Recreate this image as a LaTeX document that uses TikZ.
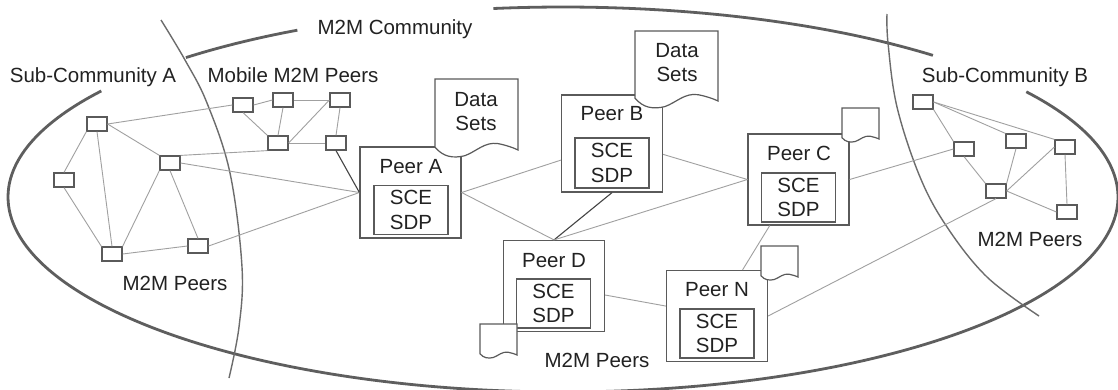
\documentclass[tikz,border=0pt]{standalone}
\usepackage{fontspec}
\setmainfont{Liberation Sans}
\definecolor{inkc}{HTML}{222222}
\definecolor{ringc}{HTML}{5E5E5E}
\definecolor{dividerc}{HTML}{6C6C6C}
\definecolor{boxc}{HTML}{5A5A5A}
\definecolor{linkc}{HTML}{A0A0A0}
\definecolor{strongc}{HTML}{444444}
\tikzset{
  lbl/.style={inner sep=0pt,text=inkc,font=\fontsize{20.5}{24.5}\selectfont,text height=14.5pt,text depth=0pt},
  peerbox/.style={draw=boxc,line width=1.2pt,fill=white,inner sep=0pt,minimum width=101pt,minimum height=91pt},
  engine/.style={draw=boxc,line width=1.2pt,fill=white,inner sep=0pt,minimum width=74pt,minimum height=49pt,
    align=center,text=inkc,font=\fontsize{20.5}{24.5}\selectfont},
  small/.style={draw=boxc,line width=1.2pt,fill=white,inner sep=0pt,minimum width=20pt,minimum height=14pt},
  ring/.style={draw=ringc,line width=2.8pt},
  divider/.style={draw=dividerc,line width=1.4pt},
  link/.style={draw=linkc,line width=0.9pt},
  stronglink/.style={draw=strongc,line width=1.1pt},
  docline/.style={draw=boxc,line width=1.2pt,fill=white}
}
\newcommand{\wavedoc}[4]{%
  \begin{scope}[shift={(#1,#2)},x=#3pt,y=-#4pt]
    \path[docline] (0,0) -- (1,0) -- (1,1)
      .. controls (.95,.97) and (.85,.93) .. (.76,.91)
      .. controls (.6,.88) and (.5,1.02) .. (.36,1.08)
      .. controls (.22,1.12) and (.1,1.1) .. (0,.96) -- cycle;
  \end{scope}}
\begin{document}
\begin{tikzpicture}[x=1pt,y=-1pt]
\clip (0,0) rectangle (1118,389);
\fill[white] (0,0) rectangle (1118,389);
% community ring
\draw[ring] plot[domain=213.7:-33.4,samples=240,variable=\t]
  ({563+555*cos(\t)},{197+(192.5+2.5*sin(\t))*sin(\t)});
\draw[ring] plot[domain=227.2:241.4,samples=20,variable=\t]
  ({563+555*cos(\t)},{197+190*sin(\t)});
\draw[ring] plot[domain=262.8:311.8,samples=60,variable=\t]
  ({563+555*cos(\t)},{197+190*sin(\t)});
% sub-community borders
\draw[divider] plot[smooth,tension=.6] coordinates {(161,20) (185,60) (207,103) (230,173) (242,267) (239,327) (229,378)};
\draw[divider] plot[smooth,tension=.6] coordinates {(887,14) (888,43) (897,107) (920,177) (947,227) (987,277) (1039,316)};
% small peers
\node[small] (a1) at (97,124) {};
\node[small] (a2) at (64,180) {};
\node[small] (a3) at (170,163) {};
\node[small] (a4) at (112,254) {};
\node[small] (a5) at (198,246) {};
\node[small] (m1) at (243,105) {};
\node[small] (m2) at (283,100) {};
\node[small] (m3) at (340,100) {};
\node[small] (m4) at (278,143) {};
\node[small] (m5) at (336,143) {};
\node[small] (b1) at (923,102) {};
\node[small] (b2) at (964,149) {};
\node[small] (b3) at (1016,141) {};
\node[small] (b4) at (1065,147) {};
\node[small] (b5) at (996,191) {};
\node[small] (b6) at (1067,212) {};
% large peers
\node[peerbox] (pa) at (410.5,192.5) {};
\node[peerbox,minimum height=97pt] (pb) at (612,143.5) {};
\node[peerbox] (pc) at (798.5,179.5) {};
\node[peerbox] (pd) at (554,286) {};
\node[peerbox] (pn) at (717,316) {};
% links
\draw[link] (a1.east) -- (m1.west);
\draw[link] (a1.east) -- (a3.north west);
\draw[link] (a3.north east) -- (m4.south west);
\draw[link] (a3.east) -- (pa.west);
\draw[link] (a5.east) -- (pa.west);
\draw[link] (a3.south west) -- (a4.north east);
\draw[link] (a3.south) -- (a5.north);
\draw[link] (a1.south) -- (a4.north);
\draw[link] (a1.south west) -- (a2.north);
\draw[link] (a2.south) -- (a4.north west);
\draw[link] (a4.east) -- (a5.west);
\draw[link] (m1.east) -- (m2.west);
\draw[link] (m2.east) -- (m3.west);
\draw[link] (m3.south) -- (m5.north);
\draw[link] (m2.south) -- (m4.north);
\draw[link] (m1.south) -- (m4.north west);
\draw[link] (m3.west) -- (m4.east);
\draw[link] (m4.east) -- (m5.west);
\draw[stronglink] (m5.south) -- (pa.west);
\draw[link] (pa.east) -- (pb.198);
\draw[link] (pa.east) -- (pd.north);
\draw[stronglink] (pb.south) -- (pd.north);
\draw[link] (pc.west) -- (pd.north);
\draw[link] (pb.-12) -- (pc.west);
\draw[link] (pd.-10) -- (pn.169);
\draw[link] (pc.east) -- (b2.west);
\draw[link] (pc.238) -- (pn.61);
\draw[link] (pn.east) -- (b5.south);
\draw[link] (b1.east) -- (b4.north west);
\draw[link] (b1.east) -- (b3.north west);
\draw[link] (b1.south east) -- (b2.north west);
\draw[link] (b2.south) -- (b5.north west);
\draw[link] (b3.south) -- (b5.north east);
\draw[link] (b4.west) -- (b5.east);
\draw[link] (b4.south) -- (b6.north);
\draw[link] (b5.east) -- (b6.west);
% engines and titles
\node[engine] (ea) at (411,210) {SCE\\SDP};
\node[engine,minimum height=50pt] (eb) at (612,163) {SCE\\SDP};
\node[engine] (ec) at (798.5,197.5) {SCE\\SDP};
\node[engine] (ed) at (553.5,303.5) {SCE\\SDP};
\node[engine] (en) at (717,333.5) {SCE\\SDP};
\node[lbl] (ta) at (411,166) {Peer A};
\node[lbl] (tb) at (612,113) {Peer B};
\node[lbl] (tc) at (799,153) {Peer C};
\node[lbl] (td) at (554,260) {Peer D};
\node[lbl] (tn) at (717,289) {Peer N};
% documents
\wavedoc{435}{79}{83}{71}
\wavedoc{635}{31}{83}{70}
\wavedoc{480}{324}{37}{31}
\wavedoc{761}{246}{37}{31}
\wavedoc{842}{108}{37}{31}
\node[lbl,align=center] (da) at (476,99) {Data};
\node[lbl,align=center] (sa) at (476,123) {Sets};
\node[lbl,align=center] (db) at (677,50) {Data};
\node[lbl,align=center] (sb) at (677,74) {Sets};
% labels
\node[lbl] (l1) at (395,27) {M2M Community};
\node[lbl] (l2) at (93,75) {Sub-Community A};
\node[lbl] (l3) at (293,75) {Mobile M2M Peers};
\node[lbl] (l4) at (175,283) {M2M Peers};
\node[lbl] (l5) at (597,360) {M2M Peers};
\node[lbl] (l6) at (1005,75) {Sub-Community B};
\node[lbl] (l7) at (1030,239) {M2M Peers};
\end{tikzpicture}
\end{document}
